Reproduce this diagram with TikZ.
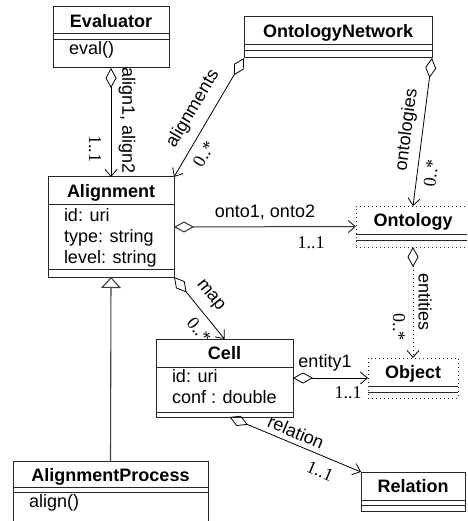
\documentclass[tikz,border=0pt]{standalone}
\usepackage{fontspec}
\setmainfont{Liberation Sans}
\newfontfamily\multfont{Liberation Serif}
\usetikzlibrary{arrows.meta}
\begin{document}
\begin{tikzpicture}[x=1pt,y=-1pt,
  every node/.style={inner sep=0pt, outer sep=0pt},
  cls/.style={draw=black!85, line width=1pt, anchor=north west, inner sep=0pt},
  dcls/.style={cls, dash pattern=on 1.2pt off 2.8pt},
  ttl/.style={font=\fontsize{18}{21}\selectfont\bfseries, anchor=base},
  att/.style={font=\fontsize{18}{21}\selectfont, anchor=base west},
  role/.style={font=\fontsize{18}{21}\selectfont},
  mult/.style={font=\fontsize{18}{21}\selectfont\multfont},
  sep/.style={line width=1pt, draw=black!85},
  assoc/.style={line width=0.8pt, {Diamond[open,length=20pt,width=11pt]}-{Straight Barb[length=7pt,width=12pt]}},
  gen/.style={line width=1.1pt, draw=black!75, -{Triangle[open,length=11pt,width=20pt]}},
]
\useasboundingbox (0,0) rectangle (467,521);
\clip (0,0) rectangle (467,521);

% ---------- class boxes ----------
\node[cls, minimum width=116pt, minimum height=61pt] (eval) at (53,7) {};
\draw[sep] (53,34) -- (169,34) (53,40) -- (169,40);
\node[ttl] (evalT) at (111,28) {Evaluator};
\node[att] (evalO) at (69,55) {eval()};

\node[cls, minimum width=188pt, minimum height=41pt] (onet) at (244,17) {};
\draw[sep] (244,45) -- (432,45) (244,51) -- (432,51);
\node[ttl] (onetT) at (338,38) {OntologyNetwork};

\node[cls, minimum width=126pt, minimum height=100pt] (align) at (48,177) {};
\draw[sep] (48,204) -- (174,204) (48,269) -- (174,269);
\node[ttl] (alignT) at (111,197) {Alignment};
\node[att] (alignA1) at (64,221) {id: uri};
\node[att] (alignA2) at (64,242) {type: string};
\node[att] (alignA3) at (64,263) {level: string};

\node[dcls, minimum width=114pt, minimum height=41pt] (onto) at (356,206) {};
\draw[sep] (356,234) -- (470,234) (356,240) -- (470,240);
\node[ttl] (ontoT) at (413,226) {Ontology};

\node[cls, minimum width=137pt, minimum height=78pt] (cell) at (156,339) {};
\draw[sep] (156,367) -- (293,367) (156,412) -- (293,412);
\node[ttl] (cellT) at (224.5,359) {Cell};
\node[att] (cellA1) at (172,382) {id: uri};
\node[att] (cellA2) at (172,403) {conf : double};

\node[dcls, minimum width=90pt, minimum height=40pt] (obj) at (368,358) {};
\draw[sep] (368,386) -- (458,386) (368,392) -- (458,392);
\node[ttl] (objT) at (413,378) {Object};

\node[cls, minimum width=104pt, minimum height=39pt] (rel) at (361,472) {};
\draw[sep] (361,500) -- (465,500) (361,505) -- (465,505);
\node[ttl] (relT) at (413,492) {Relation};

\node[cls, minimum width=195pt, minimum height=80pt] (aproc) at (13,461) {};
\draw[sep] (13,487) -- (208,487) (13,492) -- (208,492);
\node[ttl] (aprocT) at (110.5,481) {AlignmentProcess};
\node[att] (aprocO) at (29,507) {align()};

% ---------- connectors ----------
\draw[assoc] (eval.south) -- (align.north);
\node[role, rotate=-90] (l1) at (127,121) {align1, align2};
\node[mult, rotate=-90] (m1) at (95,149) {1..1};

\draw[assoc] (onet.south west) -- (align.north east);
\node[role, rotate=59.5] (l2) at (193,109) {alignments};
\node[mult, rotate=59.5] (m2) at (204,154) {0..*};

\draw[assoc] (onet.south east) -- (onto.north);
\node[role, rotate=82.5] (l3) at (407,130) {ontologies};
\node[mult, rotate=82.5] (m3) at (431,173) {0..*};

\draw[assoc, draw=black!80, line width=1pt] (align.east) -- (onto.west);
\node[role, anchor=base] (l4) at (265,217) {onto1, onto2};
\node[mult, anchor=base] (m4) at (311,248) {1..1};

\draw[assoc, dash pattern=on 1.2pt off 2.8pt] (onto.south) -- (obj.north);
\node[role, rotate=-90] (l5) at (425,302) {entities};
\node[mult, rotate=-90] (m5) at (399,327) {0..*};

\draw[assoc] (align.south east) -- (cell.north);
\node[role, rotate=-51] (l6) at (210,296) {map};
\node[mult, rotate=-51] (m6) at (199,330) {0..*};

\draw[assoc] (cell.east) -- (obj.west);
\node[role, anchor=base] (l7) at (325,367) {entity1};
\node[mult, anchor=base] (m7) at (348,398) {1..1};

\coordinate (cellrel) at ([xshift=5pt]cell.south);
\draw[assoc] (cellrel) -- (rel.north west);
\node[role, rotate=-22.8] (l8) at (296,432) {relation};
\node[mult, rotate=-22.8] (m8) at (320,471) {1..1};

\draw[gen] (aproc.north) -- (align.south);
\end{tikzpicture}
\end{document}
